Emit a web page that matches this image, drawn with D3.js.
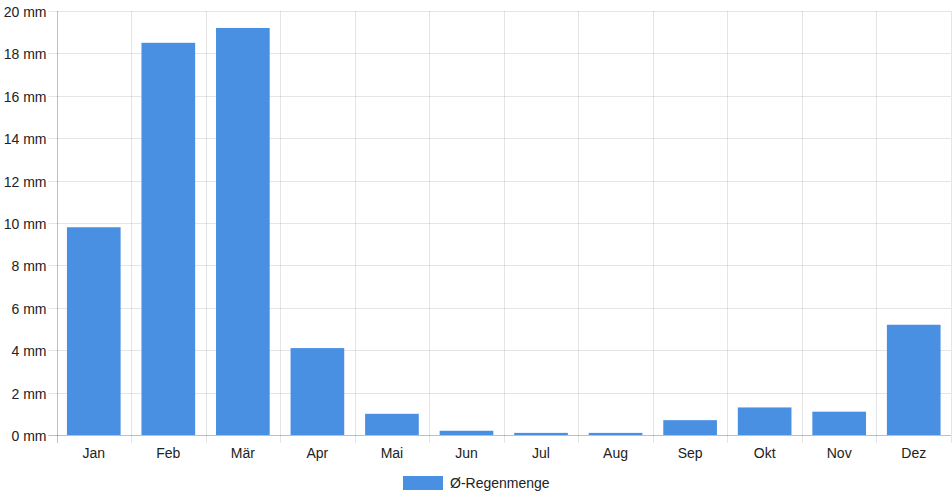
<!DOCTYPE html>
<html>
<head>
<meta charset="utf-8">
<script src="https://cdn.jsdelivr.net/npm/d3@7"></script>
<style>
    body { margin: 0; background: #fff; }
    svg { font-family: "Liberation Sans", Arial, sans-serif; }
</style>
</head>
<body>
<svg id="chart" width="952" height="500"></svg>
<script>
// Monatsnamen und Werte (mm)
const months = ['Jan', 'Feb', 'Mär', 'Apr', 'Mai', 'Jun', 'Jul', 'Aug', 'Sep', 'Okt', 'Nov', 'Dez'];
const rain = [9.8, 18.5, 19.2, 4.1, 1.0, 0.2, 0.1, 0.1, 0.7, 1.3, 1.1, 5.2];
const yTicks = [0, 2, 4, 6, 8, 10, 12, 14, 16, 18, 20];
const seriesName = 'Ø-Regenmenge';

const margin = { top: 11, right: 1, bottom: 65, left: 56.5 };
const width = 952, height = 500;
const svg = d3.select('#chart');

const x = d3.scaleBand()
    .domain(months)
    .range([margin.left, width - margin.right])
    .paddingInner(0).paddingOuter(0);

const y = d3.scaleLinear()
    .domain([0, 20])
    .range([height - margin.bottom, margin.top]);

// horizontal grid + y ticks
const gy = svg.append('g');
yTicks.forEach(t => {
    const yy = Math.round(y(t)) + 0.5;
    gy.append('line')
        .attr('x1', margin.left - 8).attr('x2', width - margin.right)
        .attr('y1', yy).attr('y2', yy)
        .attr('stroke', t === 0 ? 'rgba(0,0,0,0.25)' : 'rgba(0,0,0,0.1)');
    gy.append('text')
        .attr('x', margin.left - 10).attr('y', yy)
        .attr('text-anchor', 'end').attr('dominant-baseline', 'central')
        .attr('font-size', 14).attr('fill', '#222')
        .text(t + ' mm');
});

// vertical grid at category edges
const gx = svg.append('g');
months.forEach((m, i) => {
    const xx = Math.round(x(m)) + 0.5;
    gx.append('line')
        .attr('x1', xx).attr('x2', xx)
        .attr('y1', margin.top).attr('y2', y(0) + 8)
        .attr('stroke', i === 0 ? 'rgba(0,0,0,0.25)' : 'rgba(0,0,0,0.1)');
    gx.append('text')
        .attr('x', x(m) + x.bandwidth() / 2).attr('y', y(0) + 18)
        .attr('text-anchor', 'middle').attr('dominant-baseline', 'central')
        .attr('font-size', 14).attr('fill', '#222')
        .text(m);
});
gx.append('line')
    .attr('x1', width - margin.right + 0.5).attr('x2', width - margin.right + 0.5)
    .attr('y1', margin.top).attr('y2', y(0) + 8)
    .attr('stroke', 'rgba(0,0,0,0.1)');

// bars (72% of category like chart.js)
const barW = x.bandwidth() * 0.72;
svg.append('g').selectAll('rect')
    .data(rain)
    .enter()
    .append('rect')
    .attr('x', (d, i) => x(months[i]) + (x.bandwidth() - barW) / 2)
    .attr('y', d => y(d))
    .attr('width', barW)
    .attr('height', d => y(0) - y(d))
    .attr('fill', '#4a90e2');

// legend
const lg = svg.append('g');
lg.append('rect')
    .attr('x', 403).attr('y', 476).attr('width', 40).attr('height', 14)
    .attr('fill', '#4a90e2');
lg.append('text')
    .attr('x', 450).attr('y', 483)
    .attr('dominant-baseline', 'central')
    .attr('font-size', 14).attr('fill', '#222')
    .text(seriesName);
</script>
</body>
</html>
